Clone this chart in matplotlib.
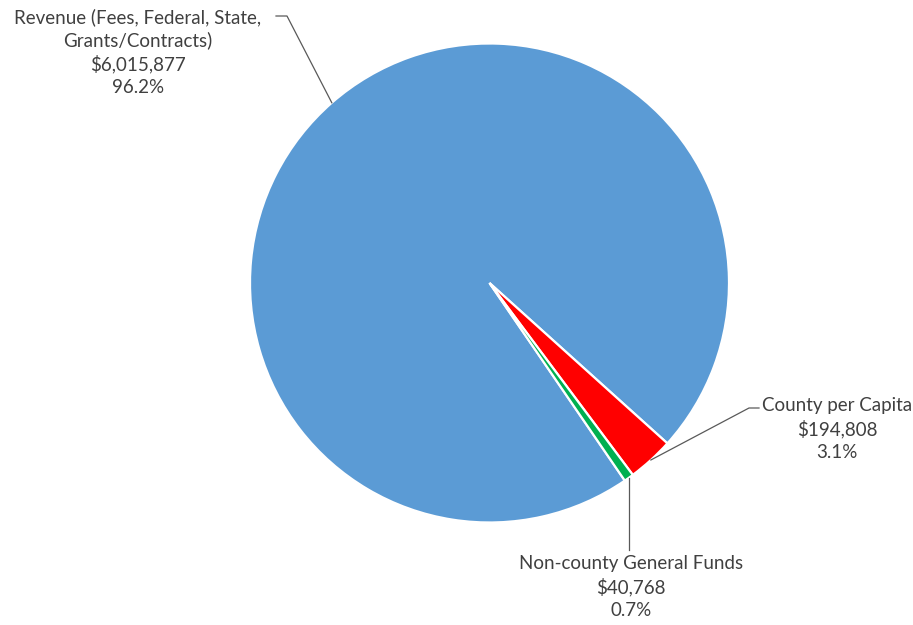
import numpy as np
import matplotlib.pyplot as plt

# Funding sources
labels = ['Revenue (Fees, Federal, State,\nGrants/Contracts)', 'County per Capita', 'Non-county General Funds']
amounts = [6015877, 194808, 40768]
colors = ['#5B9BD5', '#FF0000', '#00B050']

W, H = 913, 625
fig = plt.figure(figsize=(W / 100, H / 100), dpi=100)
ax = fig.add_axes([0, 0, 1, 1])

cx, cy, r = 489.5, H - 283, 239.5
wedges, _ = ax.pie(amounts, colors=colors, center=(cx, cy), radius=r,
                   startangle=-55.6, counterclock=False, frame=True,
                   wedgeprops=dict(edgecolor='white', linewidth=1.6))
ax.set_xlim(0, W)
ax.set_ylim(0, H)
ax.set_aspect('equal')
ax.axis('off')

total = sum(amounts)
pcts = [a / total * 100 for a in amounts]

def edge_point(w):
    ang = np.deg2rad((w.theta1 + w.theta2) / 2)
    return cx + r * np.cos(ang), cy + r * np.sin(ang)

txt = dict(fontsize=13.5, color='#404040', family=['Lato', 'DejaVu Sans'],
           ha='center', va='center', linespacing=1.36)
line = dict(color='#595959', lw=0.9)

# label block positions (x, y of block centre)
spots = [(138, H - 52), (837, H - 429), (631, H - 587)]
for lab, amt, pct, (tx, ty) in zip(labels, amounts, pcts, spots):
    ax.text(tx, ty, f'{lab}\n${amt:,.0f}\n{pct:.1f}%', **txt)

# leader lines
ex, ey = edge_point(wedges[0])
ax.plot([276, 287, ex], [H - 16, H - 16, ey], **line)
ex, ey = edge_point(wedges[1])
ax.plot([759, 749, ex], [H - 408, H - 408, ey], **line)
ex, ey = edge_point(wedges[2])
ax.plot([ex, ex], [ey, H - 550], **line)

fig.savefig('out.png', dpi=100, facecolor='white')
